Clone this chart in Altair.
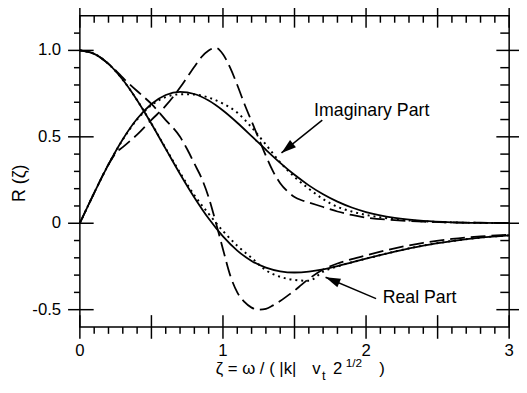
import math
import altair as alt
import pandas as pd

# ---------------- data ----------------
zeta = [0.0, 0.1, 0.2, 0.3, 0.4, 0.5, 0.6, 0.7, 0.8, 0.9, 1.0, 1.1, 1.2, 1.3,
        1.4, 1.5, 1.6, 1.7, 1.8, 1.9, 2.0, 2.2, 2.4, 2.6, 2.8, 3.0]

# solid curves
re_solid = [1.0, 0.980, 0.922, 0.830, 0.712, 0.576, 0.430, 0.285, 0.149, 0.027,
            -0.076, -0.158, -0.218, -0.257, -0.278, -0.285, -0.280, -0.267, -0.248,
            -0.226, -0.205, -0.164, -0.129, -0.103, -0.083, -0.070]
im_solid = [0.0, 0.1755, 0.3406, 0.4860, 0.6042, 0.6902, 0.7420, 0.7601, 0.7477,
            0.7096, 0.6521, 0.5814, 0.5039, 0.4252, 0.3495, 0.2802, 0.2192, 0.1675,
            0.1249, 0.0911, 0.0649, 0.0309, 0.0134, 0.0053, 0.0020, 0.0007]

# dotted curves
re_dot = [1.0, 0.980, 0.922, 0.830, 0.712, 0.577, 0.433, 0.292, 0.162, 0.055,
          -0.045, -0.130, -0.200, -0.272, -0.310, -0.328, -0.333, -0.280, -0.250,
          -0.226, -0.205, -0.164, -0.129, -0.103, -0.083, -0.070]
im_dot = [0.0, 0.1755, 0.340, 0.484, 0.600, 0.683, 0.730, 0.746, 0.745, 0.727,
          0.692, 0.640, 0.555, 0.455, 0.352, 0.268, 0.200, 0.140, 0.095, 0.068,
          0.048, 0.024, 0.011, 0.005, 0.002, 0.0007]

# dashed curves
zeta_dash = [0.0, 0.1, 0.2, 0.25, 0.3, 0.4, 0.5, 0.6, 0.7, 0.75, 0.8, 0.85, 0.9,
             0.95, 1.0, 1.05, 1.1, 1.15, 1.2, 1.25, 1.3, 1.35, 1.4, 1.45, 1.5,
             1.55, 1.6, 1.7, 1.8, 1.9, 2.0, 2.2, 2.4, 2.6, 2.8, 3.0]
re_dash = [1.0, 0.980, 0.922, 0.885, 0.842, 0.765, 0.690, 0.597, 0.500, 0.428,
           0.345, 0.262, 0.150, 0.005, -0.150, -0.300, -0.400, -0.455, -0.488,
           -0.500, -0.495, -0.475, -0.450, -0.420, -0.390, -0.355, -0.322, -0.268,
           -0.233, -0.208, -0.186, -0.145, -0.113, -0.091, -0.076, -0.066]
im_dash = [0.0, 0.175, 0.340, 0.405, 0.440, 0.513, 0.598, 0.680, 0.785, 0.845,
           0.905, 0.962, 1.000, 1.015, 0.978, 0.900, 0.800, 0.690, 0.590, 0.490,
           0.390, 0.300, 0.232, 0.185, 0.152, 0.133, 0.120, 0.094, 0.068, 0.048,
           0.033, 0.018, 0.009, 0.005, 0.003, 0.001]

# axis ticks and labels
x_major = [0.0, 0.5, 1.0, 1.5, 2.0, 2.5, 3.0]
x_label_values = [0.0, 1.0, 2.0, 3.0]
x_labels = ["0", "1", "2", "3"]
x_minor = [round(0.1 * i, 1) for i in range(1, 30) if i % 5 != 0]
y_major = [-0.5, 0.0, 0.5, 1.0]
y_labels = ["-0.5", "0", "0.5", "1.0"]
y_minor = [round(-0.6 + 0.1 * i, 1) for i in range(1, 18) if (i - 1) % 5 != 0]

# annotations (data coordinates)
label_text = ["Imaginary Part", "Real Part"]
label_x = [1.637, 2.116]
label_y = [0.619, -0.464]
arrow_start_x = [1.694, 2.07]
arrow_start_y = [0.597, -0.436]
arrow_tip_x = [1.409, 1.717]
arrow_tip_y = [0.407, -0.3125]

# ---------------- chart ----------------
W, H = 436, 316
FONT = "Liberation Sans"

xs = alt.Scale(domain=[0, 3], nice=False, zero=False)
ys = alt.Scale(domain=[-0.6, 1.2], nice=False, zero=False)


def curve_df(xv, re, im):
    rows = [{"z": a, "v": b, "part": "re"} for a, b in zip(xv, re)]
    rows += [{"z": a, "v": b, "part": "im"} for a, b in zip(xv, im)]
    return pd.DataFrame(rows)


def curve(df, **style):
    return alt.Chart(df).mark_line(color="black", interpolate="monotone", **style).encode(
        x=alt.X("z:Q", scale=xs, axis=None),
        y=alt.Y("v:Q", scale=ys, axis=None),
        detail="part:N",
    )


solid = curve(curve_df(zeta, re_solid, im_solid), strokeWidth=1.8)
dotted = curve(curve_df(zeta, re_dot, im_dot), strokeWidth=2, strokeDash=[2, 4])
dashed = curve(curve_df(zeta_dash, re_dash, im_dash), strokeWidth=1.8, strokeDash=[15, 6])


def xtick(vals, y0, y1):
    return alt.Chart(pd.DataFrame({"t": vals})).mark_rule(
        color="black", strokeWidth=1.5
    ).encode(x=alt.X("t:Q", scale=xs, axis=None), y=alt.value(y0), y2=alt.value(y1))


def ytick(vals, x0, x1):
    return alt.Chart(pd.DataFrame({"t": vals})).mark_rule(
        color="black", strokeWidth=1.5
    ).encode(y=alt.Y("t:Q", scale=ys, axis=None), x=alt.value(x0), x2=alt.value(x1))


ticks = [
    xtick(x_minor, H, H + 7),
    xtick(x_minor, 0, 7),
    xtick(x_major, H - 12, H + 12),
    xtick(x_major, -11, 12),
    ytick(y_minor, -6, 0),
    ytick(y_minor, W - 9, W),
    ytick(y_major, -12, 14),
    ytick(y_major, W - 13, W + 10),
]

x_tick_labels = alt.Chart(pd.DataFrame({"t": x_label_values, "s": x_labels})).mark_text(
    align="center", baseline="alphabetic", font=FONT, fontSize=17, color="black"
).encode(x=alt.X("t:Q", scale=xs, axis=None), y=alt.value(H + 30), text="s:N")

y_tick_labels = alt.Chart(pd.DataFrame({"t": y_major, "s": y_labels})).mark_text(
    align="right", baseline="middle", font=FONT, fontSize=17, color="black"
).encode(y=alt.Y("t:Q", scale=ys, axis=None), x=alt.value(-19), text="s:N")

labels = alt.Chart(pd.DataFrame({"t": label_text, "x": label_x, "y": label_y})).mark_text(
    align="left", baseline="alphabetic", font=FONT, fontSize=18, color="black"
).encode(
    x=alt.X("x:Q", scale=xs, axis=None),
    y=alt.Y("y:Q", scale=ys, axis=None),
    text="t:N",
)

px_x = W / 3.0
px_y = H / 1.8
angles = []
for sx, sy, tx, ty in zip(arrow_start_x, arrow_start_y, arrow_tip_x, arrow_tip_y):
    dx = (tx - sx) * px_x
    dy = -(ty - sy) * px_y
    angles.append(math.degrees(math.atan2(dx, -dy)) % 360)

arrow_df = pd.DataFrame({"sx": arrow_start_x, "sy": arrow_start_y,
                         "tx": arrow_tip_x, "ty": arrow_tip_y, "a": angles})

arrow_lines = alt.Chart(arrow_df).mark_rule(color="black", strokeWidth=1.5).encode(
    x=alt.X("sx:Q", scale=xs, axis=None),
    y=alt.Y("sy:Q", scale=ys, axis=None),
    x2="tx:Q",
    y2="ty:Q",
)

arrow_heads = alt.Chart(arrow_df).mark_point(
    shape="M0,0L-0.32,1L0.32,1Z", filled=True, color="black", opacity=1, size=900
).encode(
    x=alt.X("tx:Q", scale=xs, axis=None),
    y=alt.Y("ty:Q", scale=ys, axis=None),
    angle=alt.Angle("a:Q", scale=None),
)


def txt(s, x, y, size=17, font=FONT, angle=0, align="left", baseline="alphabetic"):
    return alt.Chart(pd.DataFrame({"t": [s]})).mark_text(
        align=align, baseline=baseline, font=font, fontSize=size, color="black", angle=angle
    ).encode(text="t:N", x=alt.value(x), y=alt.value(y))


titles = [
    txt("ζ = ω / ( |k|", 138, 364),
    txt("v", 236, 364),
    txt("t", 246, 370, size=13),
    txt("2", 257, 364),
    txt("1/2", 270, 357, size=12),
    txt(")", 304, 364),
    txt("R (ζ)", -61, 170, size=18, angle=270, align="center", baseline="middle"),
]

chart = alt.layer(
    dashed, dotted, solid, *ticks, x_tick_labels, y_tick_labels, labels,
    arrow_lines, arrow_heads, *titles
).properties(
    width=W, height=H,
    padding={"left": 73, "top": 5, "right": 10, "bottom": 56},
    autosize="none",
).configure_view(
    stroke="black", strokeWidth=1.5
)

chart.save("out.html", embed_options={"renderer": "svg", "actions": False})
